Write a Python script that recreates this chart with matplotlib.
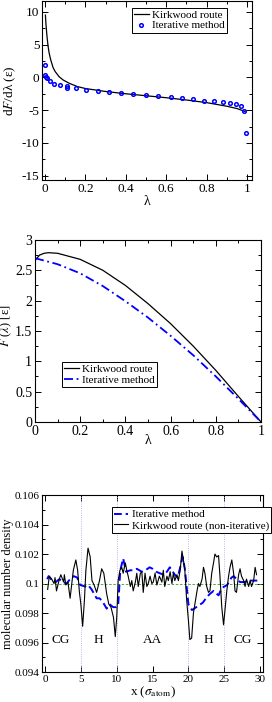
import matplotlib
matplotlib.use("Agg")
import matplotlib.pyplot as plt
from matplotlib.ticker import MultipleLocator

plt.rcParams['font.family'] = ['Liberation Serif', 'DejaVu Serif']
plt.rcParams['mathtext.fontset'] = 'stix'

# panel 1: dF/dlambda
lam_kirk = [0.002, 0.005, 0.01, 0.015, 0.02, 0.025, 0.03, 0.04, 0.05, 0.07, 0.09, 0.12,
            0.16, 0.2, 0.3, 0.4, 0.5, 0.6, 0.7, 0.8, 0.9, 0.95, 0.99]
dF_kirk = [9.5, 8.0, 6.2, 4.8, 3.8, 3.1, 2.5, 1.5, 0.9, 0.1, -0.4, -0.9,
           -1.4, -1.7, -2.15, -2.5, -2.8, -3.1, -3.45, -3.85, -4.4, -4.75, -5.2]
lam_iter = [0.0, 0.0, 0.005, 0.008, 0.025, 0.045, 0.075, 0.11, 0.11, 0.155, 0.205, 0.26,
            0.315, 0.375, 0.435, 0.5, 0.561, 0.622, 0.68, 0.734, 0.789, 0.838, 0.88,
            0.916, 0.946, 0.97, 0.987, 0.995]
dF_iter = [1.9, 0.35, 0.1, -0.05, -0.55, -0.95, -1.2, -1.35, -1.6, -1.65, -1.85, -2.05,
           -2.25, -2.4, -2.55, -2.7, -2.8, -3.0, -3.2, -3.36, -3.56, -3.56, -3.8,
           -3.87, -4.07, -4.3, -5.1, -8.55]

# panel 2: F(lambda)
lam_F_kirk = [0.0, 0.02, 0.04, 0.06, 0.1, 0.2, 0.3, 0.4, 0.5, 0.6, 0.7, 0.8, 0.9, 1.0]
F_kirk = [2.66, 2.75, 2.78, 2.79, 2.78, 2.68, 2.5, 2.25, 1.95, 1.62, 1.25, 0.85, 0.42, 0.0]
lam_F_iter = [0.0, 0.1, 0.2, 0.3, 0.4, 0.5, 0.6, 0.7, 0.8, 0.9, 1.0]
F_iter = [2.7, 2.6, 2.45, 2.24, 1.99, 1.72, 1.42, 1.1, 0.75, 0.38, 0.0]

# panel 3: density profiles
x_kirk = [0.37, 0.6, 0.93, 1.26, 1.4, 1.6, 2.0, 2.2, 2.6, 2.7, 2.9, 3.2, 3.5, 3.95, 4.3,
          4.55, 4.8, 5.0, 5.25, 5.5, 5.7, 6.0, 6.3, 6.55, 6.85, 7.2, 7.6, 7.9, 8.2, 8.6,
          8.9, 9.2, 9.55, 9.8, 10.0, 10.2, 10.45, 10.7, 10.9, 11.2, 11.4, 11.6, 11.9,
          12.1, 12.3, 12.6, 12.8, 13.0, 13.3, 13.5, 13.7, 13.95, 14.2, 14.4, 14.65, 14.9,
          15.1, 15.35, 15.6, 15.95, 16.3, 16.5, 16.7, 17.0, 17.2, 17.45, 17.7, 17.9, 18.1,
          18.4, 18.6, 18.85, 19.1, 19.3, 19.5, 19.75, 20.0, 20.2, 20.45, 20.7, 20.9, 21.2,
          21.4, 21.6, 21.9, 22.1, 22.3, 22.55, 22.8, 23.0, 23.25, 23.5, 23.7, 23.95, 24.2,
          24.4, 24.65, 24.9, 25.1, 25.35, 25.6, 25.8, 26.05, 26.3, 26.5, 26.7, 27.0, 27.2,
          27.4, 27.7, 27.9, 28.1, 28.4, 28.6, 28.8, 29.1, 29.3, 29.5]
rho_kirk = [0.0996, 0.1005, 0.1003, 0.1000, 0.1004, 0.0995, 0.1003, 0.1006, 0.1001, 0.1006,
            0.0999, 0.1001, 0.0990, 0.1009, 0.1016, 0.1009, 0.0994, 0.0986, 0.0971, 0.0989,
            0.1009, 0.1024, 0.1018, 0.1002, 0.0999, 0.0994, 0.1002, 0.1010, 0.1007, 0.0993,
            0.0986, 0.0984, 0.0977, 0.0964, 0.0977, 0.1002, 0.1009, 0.1011, 0.1007, 0.1014,
            0.1009, 0.1005, 0.0998, 0.1002, 0.0995, 0.1001, 0.1007, 0.0998, 0.1007, 0.1008,
            0.0994, 0.1007, 0.0998, 0.1000, 0.1005, 0.1000, 0.1001, 0.1007, 0.0999, 0.1005,
            0.1001, 0.1009, 0.0998, 0.1005, 0.1002, 0.1008, 0.1000, 0.1007, 0.1002, 0.1006,
            0.1002, 0.1009, 0.1022, 0.1016, 0.1009, 0.0989, 0.0975, 0.0962, 0.0963, 0.0980,
            0.0986, 0.0995, 0.1000, 0.0998, 0.1003, 0.1011, 0.1007, 0.0998, 0.0994, 0.0995,
            0.1007, 0.1014, 0.1020, 0.1018, 0.1019, 0.1005, 0.0984, 0.0972, 0.0982, 0.0995,
            0.1005, 0.1011, 0.1016, 0.1007, 0.0995, 0.0994, 0.1006, 0.1010, 0.1005, 0.1002,
            0.0998, 0.1003, 0.0998, 0.1002, 0.0998, 0.1002, 0.1011, 0.1006]
x_iter = [0.3, 0.5, 1.0, 1.5, 2.0, 2.5, 3.0, 3.5, 4.0, 4.5, 4.9, 5.6, 6.0, 6.5, 7.2, 7.6,
          8.0, 8.6, 9.0, 9.5, 9.9, 10.2, 10.5, 10.9, 11.3, 11.9, 12.3, 12.8, 13.5, 14.0,
          14.6, 15.0, 15.5, 16.0, 16.5, 17.0, 17.4, 18.1, 18.5, 19.2, 19.5, 20.0, 20.5,
          21.4, 22.0, 22.6, 23.0, 23.5, 24.2, 24.65, 25.4, 26.0, 26.3, 27.2, 27.8, 28.5,
          29.1, 29.6]
rho_iter = [0.1003, 0.1005, 0.1002, 0.1001, 0.1003, 0.1001, 0.1000, 0.1003, 0.1005, 0.1004,
            0.0999, 0.0998, 0.0999, 0.0996, 0.0990, 0.0990, 0.0988, 0.0983, 0.0986, 0.0984,
            0.0984, 0.0985, 0.1009, 0.1017, 0.1008, 0.1009, 0.1009, 0.1010, 0.1008, 0.1009,
            0.1011, 0.1010, 0.1008, 0.1007, 0.1006, 0.1008, 0.1011, 0.1006, 0.1004, 0.1018,
            0.1010, 0.0986, 0.0982, 0.0985, 0.0987, 0.0991, 0.0993, 0.0995, 0.0992, 0.0997,
            0.0999, 0.1004, 0.1005, 0.1001, 0.1001, 0.1002, 0.1002, 0.1002]

region_x = [2.2, 7.4, 15.0, 22.8, 27.5]
region_lbl = ['CG', 'H', 'AA', 'H', 'CG']
bounds = [5, 10, 20, 25]

lam_ticks = [0, 0.2, 0.4, 0.6, 0.8, 1]
lam_ticklabels = ['0', '0.2', '0.4', '0.6', '0.8', '1']
dF_ticks = [-15, -10, -5, 0, 5, 10]
dF_ticklabels = ['-15', '-10', '-5', '0', '5', '10']
F_ticks = [0, 0.5, 1, 1.5, 2, 2.5, 3]
F_ticklabels = ['0', '0.5', '1', '1.5', '2', '2.5', '3']
x_ticks = [0, 5, 10, 15, 20, 25, 30]
rho_ticks = [0.094, 0.096, 0.098, 0.1, 0.102, 0.104, 0.106]
rho_ticklabels = ['0.094', '0.096', '0.098', '0.1', '0.102', '0.104', '0.106']

blue = '#0000ff'


def grace_ticks(ax, size):
    ax.tick_params(which='both', direction='in', top=True, right=True, labelsize=size,
                   width=0.7, pad=2)
    ax.tick_params(which='major', length=4)
    ax.tick_params(which='minor', length=2)
    for s in ax.spines.values():
        s.set_linewidth(0.8)


def legend(ax, loc, anchor, size):
    lg = ax.legend(loc=loc, bbox_to_anchor=anchor, fontsize=size, fancybox=False,
                   edgecolor='black', framealpha=1, borderpad=0.2, labelspacing=0.1,
                   handlelength=1.3, handletextpad=0.3, borderaxespad=0)
    lg.get_frame().set_linewidth(0.7)
    return lg


fig = plt.figure(figsize=(2.72, 7.02), dpi=100)

# ---- panel 1
ax1 = fig.add_axes([0.1555, 0.7436, 0.772, 0.2545])
ax1.plot(lam_kirk, dF_kirk, color='black', lw=0.9, label='Kirkwood route')
ax1.plot(lam_iter, dF_iter, 'o', ms=2.6, mfc='none', mec=blue, mew=1.1,
         label='Iterative method')
ax1.set_xlim(-0.0134, 1.026)
ax1.set_ylim(-15.65, 11.6)
ax1.set_xticks(lam_ticks)
ax1.set_xticklabels(lam_ticklabels)
ax1.set_yticks(dF_ticks)
ax1.set_yticklabels(dF_ticklabels)
ax1.xaxis.set_minor_locator(MultipleLocator(0.1))
ax1.yaxis.set_minor_locator(MultipleLocator(2.5))
grace_ticks(ax1, 9.5)
ax1.set_xlabel('λ', fontsize=10)
ax1.set_ylabel(r'd$\mathit{F}$/dλ (ε)', fontsize=9.5)
ax1.xaxis.set_label_coords(0.5, -0.085)
ax1.yaxis.set_label_coords(-0.115, 0.5)
legend(ax1, 'upper left', (0.427, 0.965), 8)

# ---- panel 2
ax2 = fig.add_axes([0.1287, 0.3989, 0.831, 0.2593])
ax2.plot(lam_F_kirk, F_kirk, color='black', lw=0.9, label='Kirkwood route')
ax2.plot(lam_F_iter, F_iter, color=blue, lw=1.3, ls=(0, (5, 2, 1, 2)),
         label='Iterative method')
ax2.set_xlim(0, 1)
ax2.set_ylim(0, 3)
ax2.set_xticks(lam_ticks)
ax2.set_xticklabels(lam_ticklabels)
ax2.set_yticks(F_ticks)
ax2.set_yticklabels(F_ticklabels)
ax2.xaxis.set_minor_locator(MultipleLocator(0.1))
ax2.yaxis.set_minor_locator(MultipleLocator(0.25))
grace_ticks(ax2, 10)
ax2.set_xlabel('λ', fontsize=10)
ax2.set_ylabel(r'$\mathit{F}$ ($\lambda$) [ε]', fontsize=9)
ax2.xaxis.set_label_coords(0.5, -0.068)
ax2.yaxis.set_label_coords(-0.092, 0.53)
legend(ax2, 'upper left', (0.12, 0.33), 8)

# ---- panel 3
ax3 = fig.add_axes([0.1544, 0.0427, 0.8125, 0.2521])
for b in bounds:
    ax3.axvline(b, color='#b49be6', lw=0.6, ls=':')
ax3.axhline(0.1, color='#2ca02c', lw=0.6, ls=(0, (3, 2)))
ax3.plot(x_iter, rho_iter, color=blue, lw=1.4, ls=(0, (4, 2)), label='Iterative method')
ax3.plot(x_kirk, rho_kirk, color='black', lw=0.8, label='Kirkwood route (non-iterative)')
for xx, t in zip(region_x, region_lbl):
    ax3.text(xx, 0.0962, t, ha='center', va='center', fontsize=9.5)
ax3.set_xlim(-0.42, 30.4)
ax3.set_ylim(0.094, 0.106)
ax3.set_xticks(x_ticks)
ax3.set_yticks(rho_ticks)
ax3.set_yticklabels(rho_ticklabels)
ax3.yaxis.set_minor_locator(MultipleLocator(0.001))
grace_ticks(ax3, 8)
ax3.set_xlabel(r'x ($\sigma_{\rm atom}$)', fontsize=9.5)
ax3.set_ylabel('molecular number density', fontsize=9)
ax3.xaxis.set_label_coords(0.5, -0.072)
ax3.yaxis.set_label_coords(-0.125, 0.5)
legend(ax3, 'upper left', (0.315, 0.93), 8)

fig.savefig('out.png', dpi=100)
